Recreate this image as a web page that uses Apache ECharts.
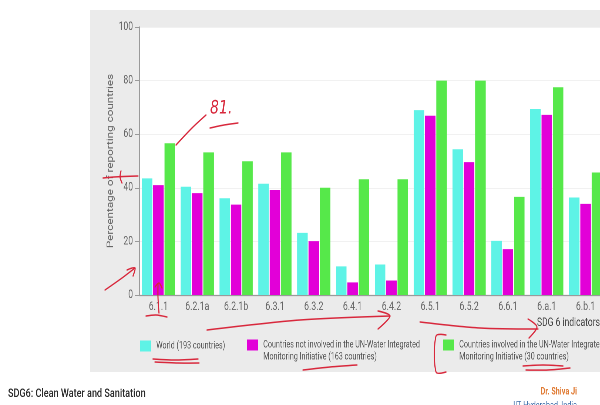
<!DOCTYPE html>
<html>
<head>
<meta charset="utf-8">
<script src="https://cdn.jsdelivr.net/npm/echarts@6/dist/echarts.min.js"></script>
<style>
  html, body { margin: 0; padding: 0; background: #fff; overflow: hidden; width: 600px; height: 405px; }
  #panel { position: absolute; left: 90px; top: 10px; width: 600px; height: 362px; background: #ebebeb; }
  /* the slide typeface is a condensed one: the drawing is narrowed horizontally */
  #chart { position: absolute; left: 0; top: 0; width: 865px; height: 405px; transform: scaleX(0.74); transform-origin: 0 0; }
</style>
</head>
<body>
<div id="panel"></div>
<div id="chart"></div>
<script>
// SDG 6 indicator reporting rates, by country group
const indicators = ['6.1.1', '6.2.1a', '6.2.1b', '6.3.1', '6.3.2', '6.4.1', '6.4.2', '6.5.1', '6.5.2', '6.6.1', '6.a.1', '6.b.1'];
const world =       [43.5, 40.4, 36.1, 41.5, 23.2, 10.7, 11.4, 69.0, 54.4, 20.2, 69.4, 36.4];
const notInvolved = [41.0, 38.0, 33.7, 39.2, 20.1,  4.7,  5.4, 66.9, 49.6, 17.1, 67.2, 34.0];
const involved =    [56.6, 53.2, 49.9, 53.2, 40.0, 43.2, 43.2, 80.0, 80.0, 36.6, 77.5, 45.7];
const yTicks = [0, 20, 40, 60, 80, 100];

const seriesNames = [
  'World (193 countries)',
  'Countries not involved in the UN-Water Integrated Monitoring Initiative (163 countries)',
  'Countries involved in the UN-Water Integrated Monitoring Initiative (30 countries)'
];
const colors = ['#5ef3e6', '#e200d8', '#56e84a'];

const S = 0.74;                 // horizontal narrowing applied to the whole drawing
const X = v => v / S;           // page x -> drawing x
const FONT = 'Roboto, sans-serif';
const PEN = '#d8283c';

function wrapLegend(name) {
  const cut = name.indexOf(' Monitoring');
  return cut > 0 ? name.slice(0, cut) + '\n' + name.slice(cut + 1) : name;
}

// square swatch sitting on the first text line, with a little room after it
const ICON_ONE_LINE = 'path://M0,0L11,0L11,11L0,11Z M12.5,0L12.5,11';
const ICON_TWO_LINES = 'path://M0,0L11,0L11,11L0,11Z M12.5,0L12.5,23';

const legendText = { color: '#555', fontFamily: FONT, fontSize: 9.7, lineHeight: 12 };
function legendFor(idx, left, top, icon, h) {
  return {
    data: [seriesNames[idx]], left: X(left), top: top, padding: 0,
    itemWidth: X(12.5), itemHeight: h, icon: icon, symbolKeepAspect: false,
    selectedMode: false, formatter: wrapLegend, textStyle: legendText
  };
}

function pen(points) {
  return { type: 'polyline', z: 100, shape: { points: points.map(p => [X(p[0]), p[1]]), smooth: 0.3 },
           style: { stroke: PEN, lineWidth: 1.5, fill: null, lineCap: 'round', lineJoin: 'round' } };
}

const chart = echarts.init(document.getElementById('chart'), null, { renderer: 'canvas', devicePixelRatio: 2 });
chart.setOption({
  backgroundColor: 'transparent',
  animation: false,
  color: colors,
  grid: { left: X(139), top: 27, width: X(466), height: 268, show: true, backgroundColor: '#ffffff', borderWidth: 0 },
  xAxis: {
    type: 'category',
    data: indicators,
    axisLine: { lineStyle: { color: '#9a9a9a', width: 1.3 } },
    axisTick: { show: false },
    axisLabel: { color: '#666', fontFamily: FONT, fontSize: 11.8, margin: 6, interval: 0 }
  },
  yAxis: {
    type: 'value',
    min: yTicks[0], max: yTicks[yTicks.length - 1], interval: 20,
    name: 'Percentage of reporting countries',
    nameLocation: 'middle', nameRotate: 90, nameGap: X(24), nameMoveOverlap: false,
    nameTextStyle: { color: '#666', fontSize: 11.7, fontFamily: FONT },
    axisLine: { show: true, lineStyle: { color: '#9a9a9a', width: 1.3 } },
    axisTick: { show: true, length: X(4), lineStyle: { color: '#9a9a9a' } },
    axisLabel: { color: '#666', fontFamily: FONT, fontSize: 11.5, margin: X(6) },
    splitLine: { lineStyle: { color: '#f1f1f1' } }
  },
  legend: [
    legendFor(0, 140, 340, ICON_ONE_LINE, 11),
    legendFor(1, 247, 339, ICON_TWO_LINES, 23),
    legendFor(2, 443, 339, ICON_TWO_LINES, 23)
  ],
  series: [
    { name: seriesNames[0], type: 'bar', data: world, barWidth: X(10.5), barGap: '8%' },
    { name: seriesNames[1], type: 'bar', data: notInvolved, barWidth: X(10.5), barGap: '8%' },
    { name: seriesNames[2], type: 'bar', data: involved, barWidth: X(10.5), barGap: '8%' }
  ],
  graphic: [
    { type: 'text', left: X(537), top: 317, style: { text: 'SDG 6 indicators', fill: '#444', font: '11.5px ' + FONT } },
    { type: 'text', left: X(8), top: 388, style: { text: 'SDG6: Clean Water and Sanitation', fill: '#2b2b2b', font: '500 12.3px ' + FONT } },
    { type: 'text', x: X(577), y: 392, style: { text: 'Dr. Shiva Ji', fill: '#e07b34', font: 'bold 9.8px ' + FONT, align: 'right', verticalAlign: 'middle' } },
    { type: 'text', x: X(577), y: 406, style: { text: 'IIT Hyderabad, India', fill: '#3a6aa8', font: '9.8px ' + FONT, align: 'right', verticalAlign: 'middle' } },

    // pen annotations
    { type: 'text', left: X(210), top: 99, z: 100, style: { text: '81.', fill: PEN, font: 'italic 19px DejaVu Sans' } },
    pen([[210, 128], [224, 125], [238, 123]]),
    pen([[176, 145], [192, 128], [206, 115]]),
    pen([[103, 178], [114, 177], [138, 176]]),
    pen([[121, 171], [120, 177], [122, 183]]),
    pen([[105, 290], [122, 278], [135, 268]]),
    pen([[127, 270], [135, 268], [133, 276]]),
    pen([[158, 284], [158, 298], [159, 313]]),
    pen([[155, 287], [159, 283], [162, 288]]),
    pen([[146, 316], [156, 315], [167, 317]]),
    pen([[207, 330], [300, 320], [390, 316]]),
    pen([[378, 311], [390, 316], [378, 329]]),
    pen([[420, 322], [480, 328], [538, 329]]),
    pen([[528, 319], [537, 327], [529, 338]]),
    pen([[153, 359], [175, 360], [198, 359]]),
    pen([[155, 362], [178, 363], [199, 363]]),
    pen([[303, 370], [330, 367], [357, 365]]),
    pen([[446, 335], [436, 336], [436, 372], [446, 372]]),
    pen([[523, 366], [543, 365], [563, 366]]),
    pen([[526, 370], [548, 370], [570, 368]])
  ]
});
</script>
</body>
</html>
